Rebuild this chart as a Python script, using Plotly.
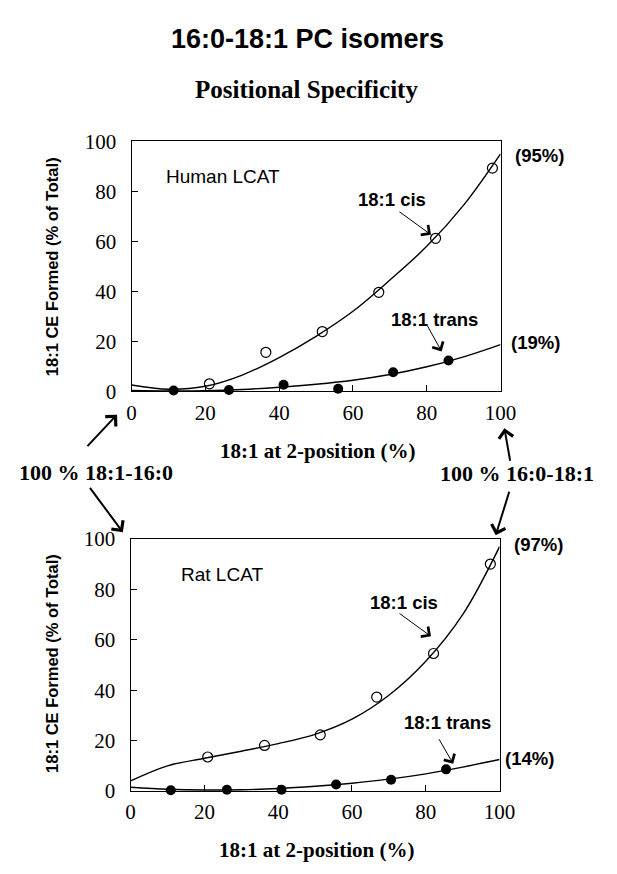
import plotly.graph_objects as go

W, H = 617, 874

# Measured points: 18:1 CE formed (% of total) vs 18:1 at the 2-position (%)
human_cis_x = [21.1, 36.4, 51.7, 67.0, 82.4, 97.8]
human_cis_y = [3.0, 15.6, 23.9, 39.6, 61.2, 89.3]
human_trans_x = [11.4, 26.4, 41.2, 56.0, 70.9, 85.9]
human_trans_y = [0.3, 0.5, 2.6, 1.0, 7.6, 12.3]

rat_cis_x = [20.9, 36.3, 51.4, 66.7, 82.1, 97.5]
rat_cis_y = [13.5, 18.1, 22.3, 37.3, 54.6, 90.1]
rat_trans_x = [10.9, 26.1, 40.9, 55.7, 70.6, 85.5]
rat_trans_y = [0.3, 0.5, 0.5, 2.6, 4.5, 8.6]

# Fitted curves
fit_x = [0, 10, 20, 30, 40, 50, 60, 70, 80, 90, 100]
human_cis_fit = [2.5, 0.8, 2.0, 6.5, 13.5, 22.0, 32.0, 44.5, 58.0, 74.5, 95.0]
human_trans_fit = [0.3, 0.1, 0.2, 0.7, 1.6, 2.8, 4.4, 6.7, 9.8, 13.8, 18.7]
rat_cis_fit = [4.0, 10.0, 13.0, 15.8, 18.8, 22.5, 28.5, 38.0, 51.5, 70.0, 97.0]
rat_trans_fit = [1.5, 0.7, 0.4, 0.5, 1.0, 1.9, 3.1, 4.7, 6.8, 9.5, 12.5]

# End-of-curve values at 100 % 16:0-18:1
end_labels_human = ["(95%)", "(19%)"]
end_labels_rat = ["(97%)", "(14%)"]

tick_vals = [0, 20, 40, 60, 80, 100]

SANS = "Liberation Sans"
SERIF = "Liberation Serif"


def px(x):
    return x / W


def py(y):
    return 1 - y / H


fig = go.Figure()

panels = [
    ("x", "y", human_cis_x, human_cis_y, human_trans_x, human_trans_y,
     human_cis_fit, human_trans_fit),
    ("x2", "y2", rat_cis_x, rat_cis_y, rat_trans_x, rat_trans_y,
     rat_cis_fit, rat_trans_fit),
]

for xa, ya, cx, cy, tx, ty, cfit, tfit in panels:
    for fy in (cfit, tfit):
        fig.add_trace(go.Scatter(
            x=fit_x, y=fy, xaxis=xa, yaxis=ya, mode="lines",
            line=dict(color="black", width=1.4, shape="spline"),
            showlegend=False, hoverinfo="skip", cliponaxis=True))
    fig.add_trace(go.Scatter(
        x=cx, y=cy, xaxis=xa, yaxis=ya, mode="markers",
        marker=dict(symbol="circle-open", size=10, color="black",
                    line=dict(width=1.2, color="black")),
        showlegend=False, cliponaxis=False))
    fig.add_trace(go.Scatter(
        x=tx, y=ty, xaxis=xa, yaxis=ya, mode="markers",
        marker=dict(symbol="circle", size=10, color="black"),
        showlegend=False, cliponaxis=False))

axis_common = dict(
    range=[0, 100], tickvals=tick_vals, ticks="inside", ticklen=6,
    tickcolor="black", tickwidth=1, showline=True, mirror=True,
    linecolor="black", linewidth=1.3, showgrid=False, zeroline=False,
    tickfont=dict(family=SERIF, size=21, color="black"),
)

fig.update_layout(
    width=W, height=H,
    margin=dict(l=0, r=0, t=0, b=0),
    paper_bgcolor="white", plot_bgcolor="white",
    xaxis=dict(domain=[px(131), px(513)], anchor="y",
               ticklabelstandoff=2, **axis_common),
    yaxis=dict(domain=[py(390), py(133)], anchor="x",
               ticklabelstandoff=10, **axis_common),
    xaxis2=dict(domain=[px(130), px(512)], anchor="y2",
                ticklabelstandoff=2, **axis_common),
    yaxis2=dict(domain=[py(801), py(542)], anchor="x2",
                ticklabelstandoff=10, **axis_common),
)

ann = []


def text(x, y, s, family, size, xanchor="left", bold=False, angle=0):
    ann.append(dict(
        x=px(x), y=py(y), xref="paper", yref="paper",
        text=f"<b>{s}</b>" if bold else s, showarrow=False,
        xanchor=xanchor, yanchor="middle", textangle=angle,
        font=dict(family=family, size=size, color="black")))


def arrow(tail, tip, width=1.0, size=1.0):
    ann.append(dict(
        x=px(tip[0]), y=py(tip[1]), xref="paper", yref="paper",
        ax=tail[0] - tip[0], ay=tail[1] - tip[1], text="",
        showarrow=True, arrowhead=4, arrowsize=size, arrowwidth=width,
        arrowcolor="black", standoff=0, startstandoff=0))


# Titles
text(313, 28, "16:0-18:1 PC isomers", SANS, 27, "center", bold=True)
text(312, 80, "Positional Specificity", SERIF, 25, "center", bold=True)

# Axis titles
text(48, 262, "18:1 CE Formed (% of Total)", SANS, 16.5, "center", bold=True, angle=-90)
text(48, 670, "18:1 CE Formed (% of Total)", SANS, 16.5, "center", bold=True, angle=-90)
text(323, 451, "18:1 at 2-position (%)", SERIF, 21, "center", bold=True)
text(322, 862, "18:1 at 2-position (%)", SERIF, 21, "center", bold=True)

# Panel labels
text(165, 169, "Human LCAT", SANS, 19)
text(180, 578, "Rat LCAT", SANS, 19)

# Series labels with pointers
text(363, 193, "18:1 cis", SANS, 18.5, bold=True)
arrow((408, 205), (441, 229), size=2.4)
text(398, 316, "18:1 trans", SANS, 18.5, bold=True)
arrow((437, 322), (452, 349), size=2.4)
text(376, 607, "18:1 cis", SANS, 18.5, bold=True)
arrow((408, 618), (441, 642), size=2.4)
text(411, 731, "18:1 trans", SANS, 18.5, bold=True)
arrow((449, 747), (464, 773), size=2.4)

# Values at the right end of each curve
text(526, 148, end_labels_human[0], SANS, 18.5, bold=True)
text(522, 340, end_labels_human[1], SANS, 18.5, bold=True)
text(525, 548, end_labels_rat[0], SANS, 18.5, bold=True)
text(516, 768, end_labels_rat[1], SANS, 18.5, bold=True)

# Pure-isomer end points
text(12, 473, "100 % 18:1-16:0", SERIF, 22, bold=True)
arrow((85, 447), (116, 414), width=2, size=1.4)
arrow((88, 489), (122, 535), width=2, size=1.4)
text(612, 475, "100 % 16:0-18:1", SERIF, 22, "right", bold=True)
arrow((523, 462), (517, 428), width=2, size=1.4)
arrow((522, 493), (508, 538), width=2, size=1.4)

fig.update_layout(annotations=ann)

fig.write_html("out.html")
